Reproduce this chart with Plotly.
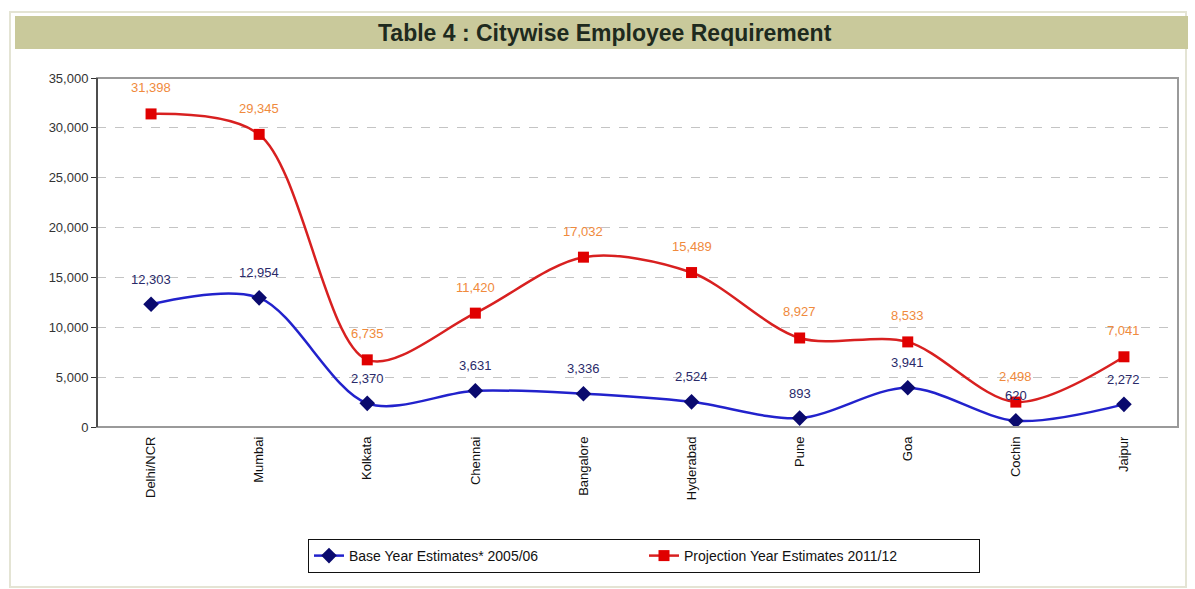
import plotly.graph_objects as go

cities = ["Delhi/NCR", "Mumbai", "Kolkata", "Chennai", "Bangalore",
          "Hyderabad", "Pune", "Goa", "Cochin", "Jaipur"]
base_2005 = [12303, 12954, 2370, 3631, 3336, 2524, 893, 3941, 620, 2272]
proj_2011 = [31398, 29345, 6735, 11420, 17032, 15489, 8927, 8533, 2498, 7041]
y_ticks = [0, 5000, 10000, 15000, 20000, 25000, 30000, 35000]

W, H = 1195, 589
L, R, T, B = 97, 1178, 78, 427

def px(x):
    return (x - L) / (R - L)

def py(y):
    return (B - y) / (B - T)

fig = go.Figure()
fig.add_trace(go.Scatter(
    x=cities, y=base_2005, name="Base Year Estimates* 2005/06",
    mode="lines+markers",
    line=dict(color="#2222cc", width=2.5, shape="spline", smoothing=0.9),
    marker=dict(symbol="diamond", size=12, color="#0a0a6e"),
))
fig.add_trace(go.Scatter(
    x=cities, y=proj_2011, name="Projection Year Estimates 2011/12",
    mode="lines+markers",
    line=dict(color="#d82020", width=2.5, shape="spline", smoothing=0.9),
    marker=dict(symbol="square", size=11, color="#e00000"),
))

annotations = []
for c, v in zip(cities, base_2005):
    annotations.append(dict(x=c, y=v, text=f"{v:,}", showarrow=False, yshift=25,
                            font=dict(size=13, color="#2a2a6a", family="Liberation Sans")))
for c, v in zip(cities, proj_2011):
    annotations.append(dict(x=c, y=v, text=f"{v:,}", showarrow=False, yshift=26,
                            font=dict(size=13, color="#f08a3c", family="Liberation Sans")))
annotations.append(dict(
    xref="paper", yref="paper", x=px(605), y=py(33),
    text="<b>Table 4 : Citywise Employee Requirement</b>", showarrow=False,
    xanchor="center", yanchor="middle",
    font=dict(size=23, color="#1e2a1e", family="Liberation Sans, Arial")))

shapes = [
    # outer frame
    dict(type="rect", xref="paper", yref="paper", x0=px(10), x1=px(1186), y0=py(587), y1=py(12),
         line=dict(color="#e4e4d4", width=2), fillcolor="rgba(0,0,0,0)", layer="below"),
    # title bar
    dict(type="rect", xref="paper", yref="paper", x0=px(15), x1=px(1188), y0=py(49), y1=py(16),
         line=dict(width=0), fillcolor="#c9c99b", layer="below"),
    # plot area border
    dict(type="rect", xref="paper", yref="paper", x0=0, x1=1, y0=0, y1=1,
         line=dict(color="#9a9a9a", width=2), fillcolor="rgba(0,0,0,0)", layer="above"),
    # left axis line
    dict(type="line", xref="paper", yref="paper", x0=0, x1=0, y0=0, y1=1,
         line=dict(color="#333333", width=1.5), layer="above"),
]

fig.update_layout(
    width=W, height=H,
    margin=dict(l=L, r=W - R, t=T, b=H - B),
    paper_bgcolor="white", plot_bgcolor="white",
    font=dict(family="Liberation Sans, Arial", size=12, color="#222222"),
    showlegend=True,
    legend=dict(orientation="h", x=px(308), xanchor="left", y=py(539), yanchor="top",
                bordercolor="#111111", borderwidth=1, bgcolor="white",
                font=dict(size=14, color="#111111", family="Liberation Sans"),
                entrywidth=290, entrywidthmode="pixels", tracegroupgap=0),
    annotations=annotations,
    shapes=shapes,
    xaxis=dict(
        type="category", tickangle=-90, showgrid=False, zeroline=False,
        showline=False, ticks="", tickfont=dict(size=13, color="#111111"),
        ticklabelstandoff=6,
        range=[-0.5, len(cities) - 0.5],
    ),
    yaxis=dict(
        range=[0, 35000], tickvals=y_ticks, tickformat=",", showgrid=True,
        gridcolor="#c4c4c4", griddash="dash", gridwidth=1, zeroline=False,
        showline=False, ticks="outside", ticklen=5, tickcolor="#333333",
        tickfont=dict(size=13, color="#333333"),
    ),
)

fig.write_html("out.html", config={"displayModeBar": False},
               post_script="document.body.style.margin='0';document.body.style.padding='0';")
